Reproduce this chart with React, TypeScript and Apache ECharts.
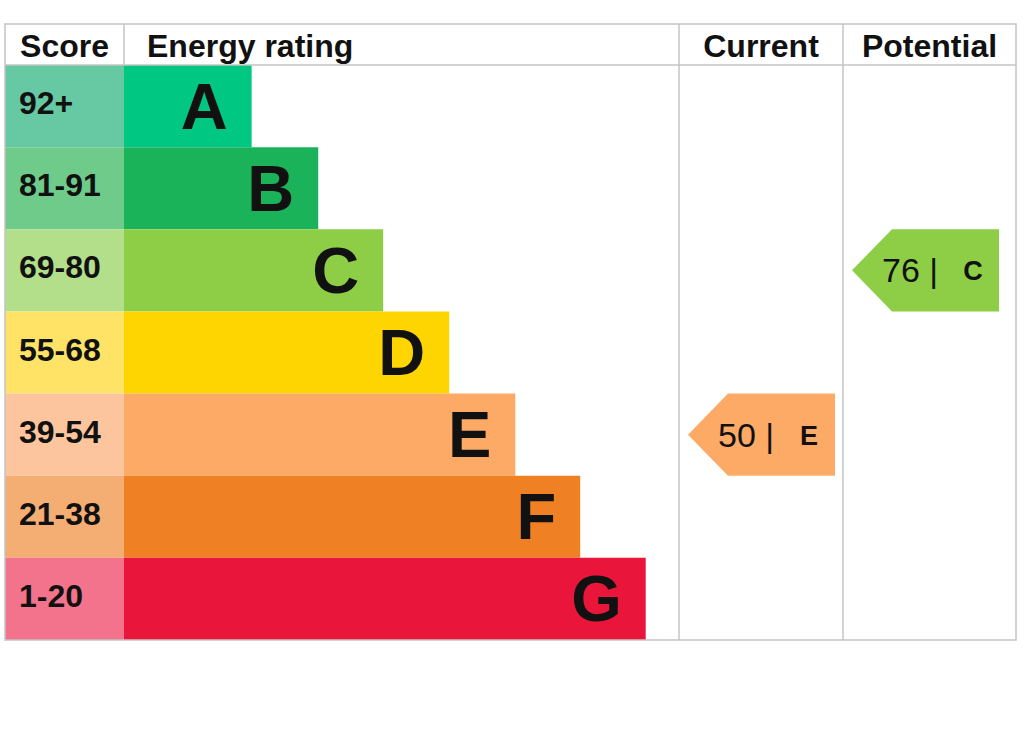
import { useEffect, useRef } from "react";
import * as echarts from "echarts";

const bands = ["A", "B", "C", "D", "E", "F", "G"];
const scoreRanges = ["92+", "81-91", "69-80", "55-68", "39-54", "21-38", "1-20"];
// bar length of each band, in percent of the rating column
const bandLengths = [23, 35, 46.7, 58.6, 70.5, 82.2, 94];
const bandColors = ["#00c781", "#1bb35a", "#8ece46", "#ffd500", "#fcaa65", "#ef8023", "#e9153b"];
const scoreColors = ["#66c9a4", "#6fcb8a", "#b3de8a", "#fee367", "#fdc59e", "#f4ae74", "#f3738c"];
const columnTitles = ["Score", "Energy rating", "Current", "Potential"];

const currentScore = 50;
const currentBand = "E";
const potentialScore = 76;
const potentialBand = "C";

const FONT = "'Liberation Sans', Arial, sans-serif";
const LINE = "#c4c4c4";

export default function App() {
  const ref = useRef<HTMLDivElement>(null);

  useEffect(() => {
    const el = ref.current;
    if (!el) return;
    const chart = echarts.init(el, undefined, { renderer: "svg" });

    const top = 65;
    const height = 575;
    const cols = [
      { left: 5, width: 119 },
      { left: 124, width: 555 },
      { left: 679, width: 164 },
      { left: 843, width: 173 },
    ];

    const arrow = (score: number, band: string) => (params: any, api: any) => {
      const idx = bands.indexOf(band);
      const [x0, cy] = api.coord([0, idx]);
      const h = api.size([0, 1])[1];
      const t = cy - h / 2;
      const b = cy + h / 2;
      return {
        type: "group",
        children: [
          {
            type: "polygon",
            shape: {
              points: [
                [x0 + 9, cy],
                [x0 + 49, t],
                [x0 + 156, t],
                [x0 + 156, b],
                [x0 + 49, b],
              ],
            },
            style: { fill: bandColors[idx] },
          },
          {
            type: "text",
            style: {
              x: x0 + 39,
              y: cy,
              text: `${score} |`,
              fontSize: 34,
              fontFamily: FONT,
              fill: "#111",
              verticalAlign: "middle",
              align: "left",
            },
          },
          {
            type: "text",
            style: {
              x: x0 + 130,
              y: cy + 1,
              text: band,
              fontSize: 27,
              fontWeight: "bold",
              fontFamily: FONT,
              fill: "#111",
              verticalAlign: "middle",
              align: "center",
            },
          },
        ],
      };
    };

    chart.setOption({
      animation: false,
      backgroundColor: "#fff",
      grid: cols.map((c) => ({ left: c.left, width: c.width, top, height })),
      xAxis: cols.map((_, i) => ({
        gridIndex: i,
        type: "value",
        min: 0,
        max: 100,
        show: false,
      })),
      yAxis: cols.map((_, i) => ({
        gridIndex: i,
        type: "category",
        data: bands,
        inverse: true,
        show: false,
      })),
      series: [
        {
          type: "bar",
          xAxisIndex: 0,
          yAxisIndex: 0,
          barWidth: "100%",
          data: scoreRanges.map((r, i) => ({
            value: 100,
            itemStyle: { color: scoreColors[i] },
            label: {
              show: true,
              position: "insideLeft",
              distance: 14,
              formatter: r,
              fontSize: 32,
              fontWeight: "bold",
              fontFamily: FONT,
              color: "#111",
              offset: [0, -3],
            },
          })),
        },
        {
          type: "bar",
          xAxisIndex: 1,
          yAxisIndex: 1,
          barWidth: "100%",
          data: bandLengths.map((v, i) => ({
            value: v,
            itemStyle: { color: bandColors[i] },
            label: {
              show: true,
              position: "insideRight",
              distance: 24,
              formatter: bands[i],
              fontSize: 65,
              fontWeight: "bold",
              fontFamily: FONT,
              color: "#111",
            },
          })),
        },
        {
          type: "custom",
          xAxisIndex: 2,
          yAxisIndex: 2,
          data: [[currentScore, bands.indexOf(currentBand)]],
          renderItem: arrow(currentScore, currentBand),
        },
        {
          type: "custom",
          xAxisIndex: 3,
          yAxisIndex: 3,
          data: [[potentialScore, bands.indexOf(potentialBand)]],
          renderItem: arrow(potentialScore, potentialBand),
        },
      ],
      graphic: [
        {
          type: "rect",
          z: 100,
          shape: { x: 5, y: 24, width: 1011, height: 616 },
          style: { fill: "none", stroke: LINE, lineWidth: 1.5 },
        },
        {
          type: "line",
          z: 100,
          shape: { x1: 5, y1: 65, x2: 1016, y2: 65 },
          style: { stroke: LINE, lineWidth: 1.5 },
        },
        {
          type: "line",
          z: 100,
          shape: { x1: 124, y1: 24, x2: 124, y2: 65 },
          style: { stroke: LINE, lineWidth: 1.5 },
        },
        {
          type: "line",
          z: 100,
          shape: { x1: 679, y1: 24, x2: 679, y2: 640 },
          style: { stroke: LINE, lineWidth: 1.5 },
        },
        {
          type: "line",
          z: 100,
          shape: { x1: 843, y1: 24, x2: 843, y2: 640 },
          style: { stroke: LINE, lineWidth: 1.5 },
        },
        ...columnTitles.map((t, i) => ({
          type: "text",
          z: 100,
          style: {
            x: i === 1 ? 147 : cols[i].left + cols[i].width / 2,
            y: 46,
            text: t,
            align: i === 1 ? "left" : "center",
            verticalAlign: "middle",
            fontSize: 32,
            fontWeight: "bold",
            fontFamily: FONT,
            fill: "#111",
          },
        })),
      ],
    });

    return () => {
      chart.dispose();
    };
  }, []);

  return (
    <div
      ref={ref}
      style={{ position: "absolute", left: 0, top: 0, width: 1024, height: 735 }}
    />
  );
}
